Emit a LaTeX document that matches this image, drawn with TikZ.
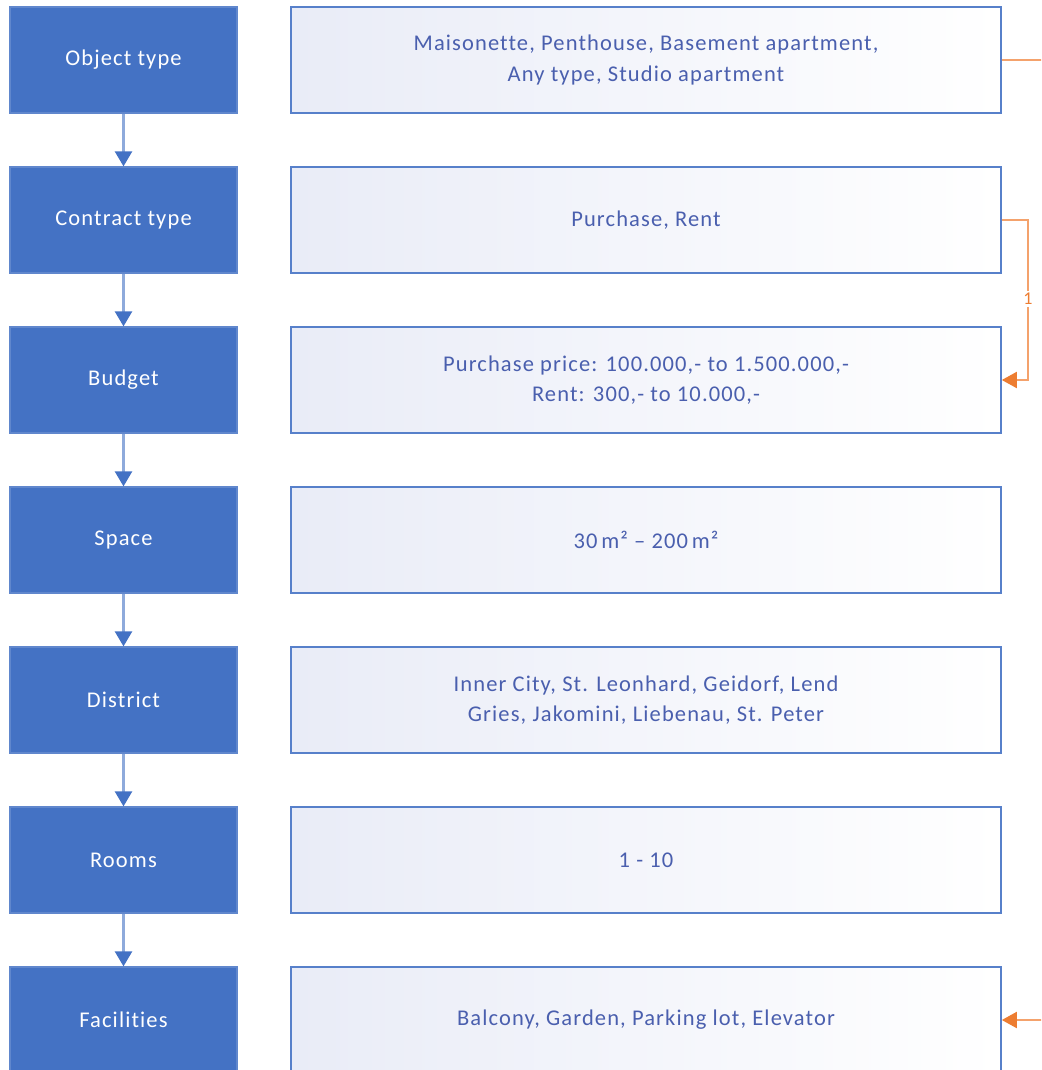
\documentclass[tikz,border=0pt]{standalone}
\usepackage{fontspec}
\setmainfont{Carlito}[LetterSpace=5, Ligatures=NoCommon]
\usetikzlibrary{arrows.meta}
\definecolor{boxblue}{HTML}{4472C4}
\definecolor{linkblue}{HTML}{8EAADB}
\definecolor{textblue}{HTML}{4A5FAE}
\definecolor{lav}{HTML}{E9ECF7}
\definecolor{orangehead}{HTML}{ED7D31}
\definecolor{orangeline}{HTML}{F4A26C}
\tikzset{
  stage/.style={draw=boxblue!85!white, line width=1.2pt, fill=boxblue,
    minimum width=227pt, minimum height=106pt, text=white,
    font=\fontsize{22.5}{30}\selectfont},
  values/.style={draw=boxblue!90!white, line width=1.6pt, left color=lav, right color=white,
    minimum width=710pt, minimum height=106pt, text=textblue, align=center,
    font=\fontsize{22.5}{30.5}\selectfont},
  flow/.style={draw=linkblue, line width=2.4pt,
    -{Triangle[width=17pt,length=15pt,color=boxblue]}},
  jump/.style={draw=orangeline, line width=2pt},
  jumptip/.style={-{Triangle[width=16pt,length=15pt,color=orangehead]}},
  jumplabel/.style={fill=white, inner sep=2pt, text=orangehead,
    font=\fontsize{18}{20}\selectfont}
}
\begin{document}
\begin{tikzpicture}[x=1pt,y=-1pt]
\useasboundingbox (0,0) rectangle (1041,1070);
\clip (0,0) rectangle (1041,1070);

% criteria on the left, allowed values on the right
\node[stage] (s1) at (123.5,60) {Object type};
\node[stage] (s2) at (123.5,220) {Contract type};
\node[stage] (s3) at (123.5,380) {Budget};
\node[stage] (s4) at (123.5,540) {Space};
\node[stage] (s5) at (123.5,700) {District};
\node[stage] (s6) at (123.5,860) {Rooms};
\node[stage] (s7) at (123.5,1020) {Facilities};

\node[values] (v1) at (646,60) {Maisonette, Penthouse, Basement apartment,\\Any type, Studio apartment};
\node[values] (v2) at (646,220) {Purchase, Rent};
\node[values] (v3) at (646,380) {Purchase price: 100.000,- to 1.500.000,-\\Rent: 300,- to 10.000,-};
\node[values] (v4) at (646,540) {30\,m² – 200\,m²};
\node[values] (v5) at (646,700) {Inner City, St. Leonhard, Geidorf, Lend\\Gries, Jakomini, Liebenau, St. Peter};
\node[values] (v6) at (646,860) {1 - 10};
\node[values] (v7) at (646,1020) {Balcony, Garden, Parking lot, Elevator};

% order of the criteria
\foreach \a/\b in {s1/s2,s2/s3,s3/s4,s4/s5,s5/s6,s6/s7}
  \draw[flow] (\a.south) -- (\b.north);

% dependencies between value sets
\coordinate (out1) at (1045,60);
\coordinate (bend) at (1028,220);
\coordinate (in7) at (1045,1020);
\node[jumplabel] (k1) at (1028,299) {1};
\draw[jump] (v1.east) -- (out1);
\draw[jump] (v2.east) -- (bend) -- (k1.north);
\draw[jump,jumptip] (k1.south) |- (v3.east);
\draw[jump,jumptip] (in7) -- (v7.east);
\end{tikzpicture}
\end{document}
